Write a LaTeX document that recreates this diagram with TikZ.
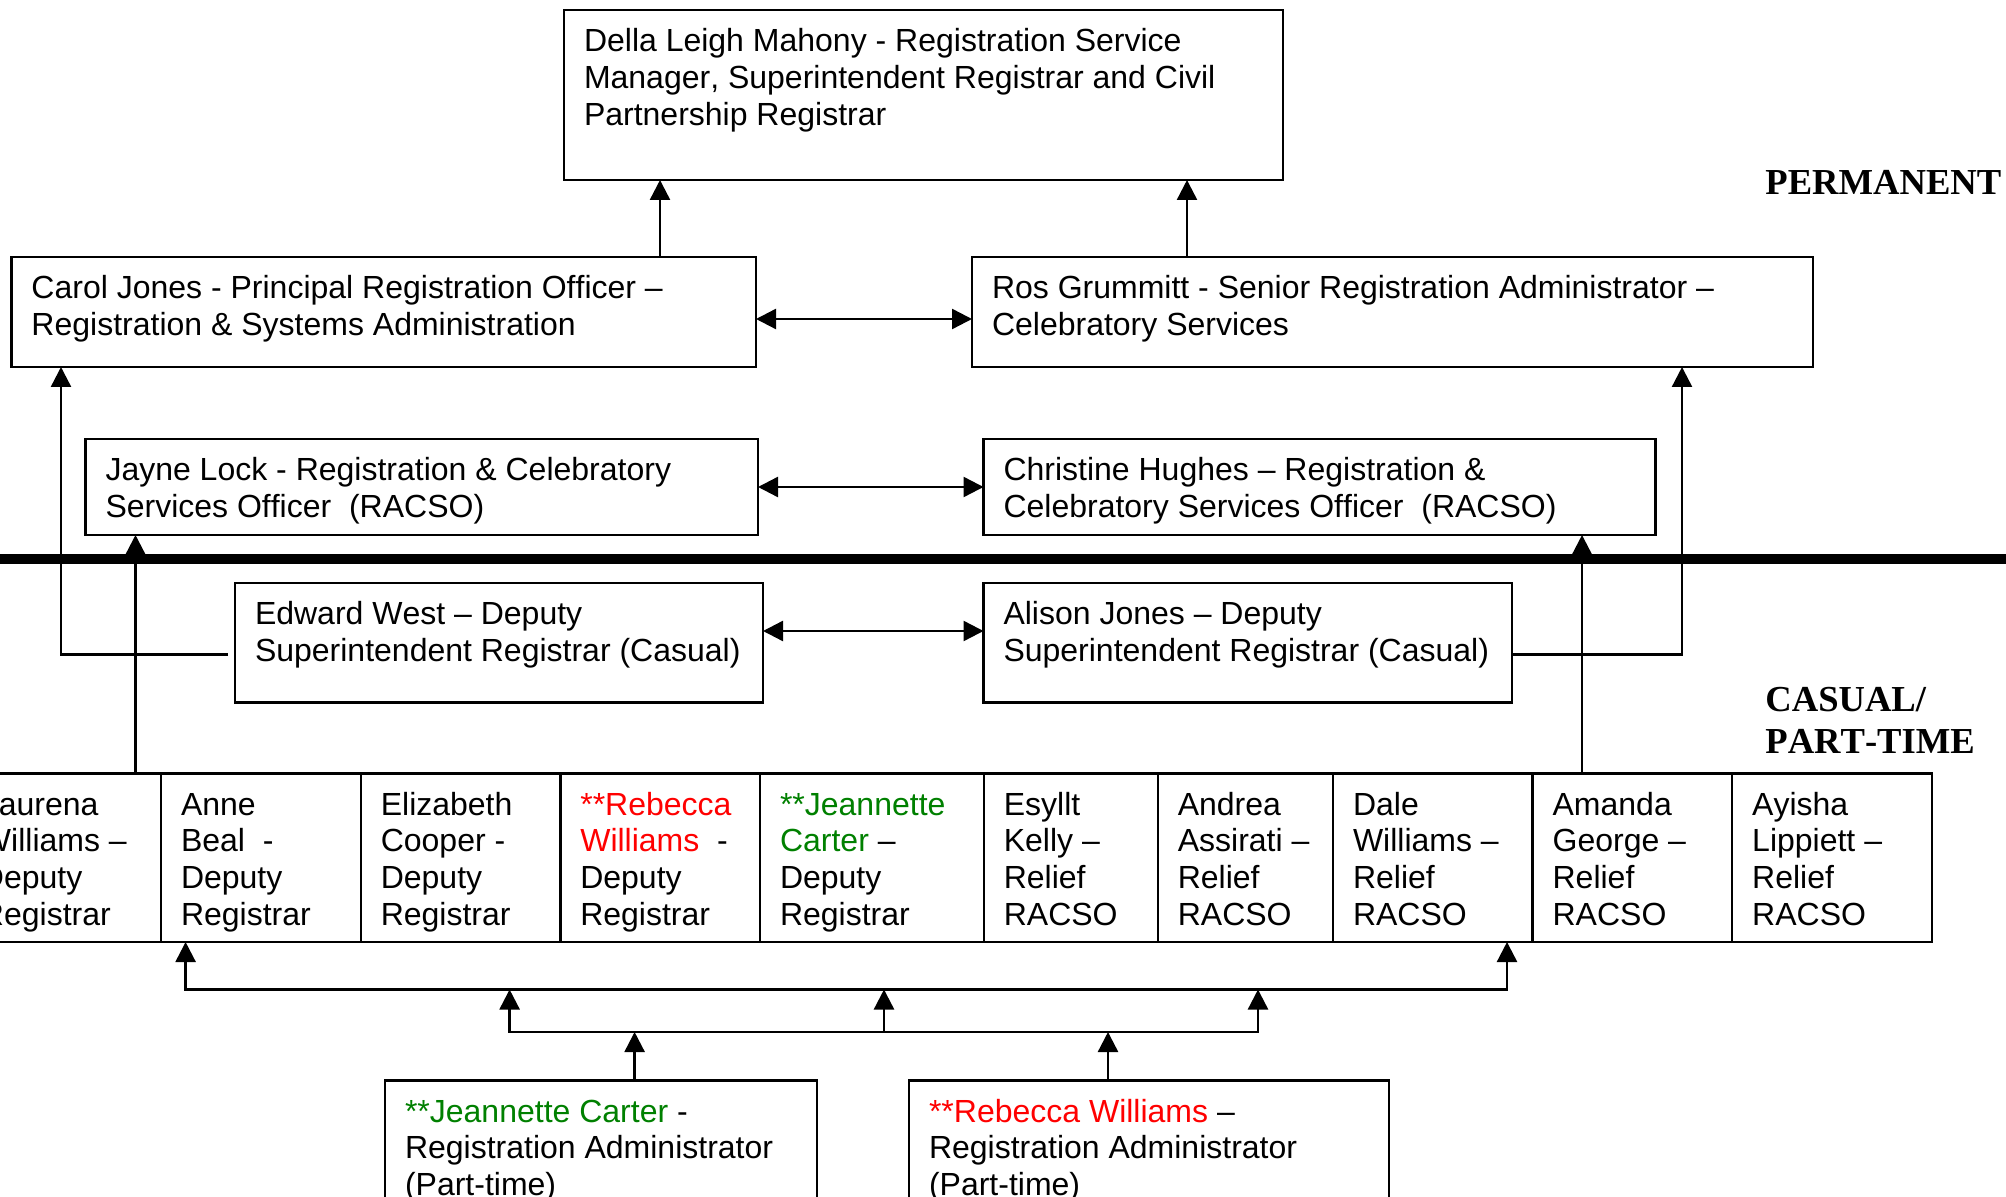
\documentclass[tikz,border=0pt]{standalone}
\usepackage{fontspec}
\setmainfont[Kerning=Off]{Liberation Sans}
\newfontfamily\lserif[Kerning=Off]{Liberation Serif}
\usetikzlibrary{arrows.meta}
\newdimen\pxu \pxu=0.5pt
\definecolor{wred}{RGB}{255,0,0}
\definecolor{wgreen}{RGB}{0,128,0}
\newcommand\bt[1]{\begin{tabular}[t]{@{}l@{}}\rule{0pt}{15.8pt}#1\end{tabular}}
\newcommand\mybox[6]{\node[box] (#1) at (#2,#3) {\parbox[c][\dimexpr #5\pxu-10pt\relax][t]{\dimexpr #4\pxu-20pt\relax}{\bt{#6}}};}
\tikzset{
  box/.style={draw, line width=1.2pt, anchor=north west, inner xsep=10pt, inner ysep=5pt, outer sep=0pt, font={\fontsize{16pt}{18.4pt}\selectfont}},
  tip/.style={},
  arr/.style={line width=1.2pt, -{Triangle[length=10pt,width=10pt]}},
  arrb/.style={line width=1.2pt, {Triangle[length=10pt,width=10pt]}-{Triangle[length=10pt,width=10pt]}},
  lab/.style={inner sep=0pt, anchor=base west, font={\lserif\bfseries\fontsize{18.3pt}{22pt}\selectfont}}
}
\begin{document}
\begin{tikzpicture}[x=0.5pt,y=-0.5pt]
\useasboundingbox (0,0) rectangle (2006,1197);
\clip (0,0) rectangle (2006,1197);
% top levels
\mybox{della}{564}{10}{719}{170}{Della Leigh Mahony - Registration Service\\Manager, Superintendent Registrar and Civil\\Partnership Registrar}
\mybox{carol}{11.5}{257}{744.5}{110}{Carol Jones - Principal Registration Officer –\\Registration \& Systems Administration}
\mybox{ros}{972}{257}{841}{110}{Ros Grummitt - Senior Registration Administrator –\\Celebratory Services}
\mybox{jayne}{85.5}{439}{672.5}{96}{Jayne Lock - Registration \& Celebratory\\Services Officer\ \ (RACSO)}
\mybox{christine}{983.5}{439}{672}{96}{Christine Hughes – Registration \&\\Celebratory Services Officer\ \ (RACSO)}
\mybox{edward}{235}{583}{528}{119.5}{Edward West – Deputy\\Superintendent Registrar (Casual)}
\mybox{alison}{983.5}{583}{528.5}{119.5}{Alison Jones – Deputy\\Superintendent Registrar (Casual)}
% row of cells
\mybox{c1}{-39}{773.5}{200}{168.5}{Laurena\\Williams –\\Deputy\\Registrar}
\mybox{c2}{161}{773.5}{199.8}{168.5}{Anne\\Beal\ \ -\\Deputy\\Registrar}
\mybox{c3}{360.8}{773.5}{199.5}{168.5}{Elizabeth\\Cooper -\\Deputy\\Registrar}
\mybox{c4}{560.3}{773.5}{199.7}{168.5}{{\color{wred}**Rebecca}\\{\color{wred}Williams}\ \ -\\Deputy\\Registrar}
\mybox{c5}{760}{773.5}{223.8}{168.5}{{\color{wgreen}**Jeannette}\\{\color{wgreen}Carter} –\\Deputy\\Registrar}
\mybox{c6}{983.8}{773.5}{174}{168.5}{Esyllt\\Kelly –\\Relief\\RACSO}
\mybox{c7}{1157.8}{773.5}{175.2}{168.5}{Andrea\\Assirati –\\Relief\\RACSO}
\mybox{c8}{1333}{773.5}{199.6}{168.5}{Dale\\Williams –\\Relief\\RACSO}
\mybox{c9}{1532.6}{773.5}{199.6}{168.5}{Amanda\\George –\\Relief\\RACSO}
\mybox{c10}{1732.2}{773.5}{199.5}{168.5}{Ayisha\\Lippiett –\\Relief\\RACSO}
% bottom boxes
\mybox{jc}{385}{1080.5}{432}{220}{{\color{wgreen}**Jeannette Carter} -\\Registration Administrator\\(Part-time)}
\mybox{rw}{909}{1080.5}{480}{220}{{\color{wred}**Rebecca Williams} –\\Registration Administrator\\(Part-time)}
% labels
\node[lab] (perm) at (1765,195) {PERMANENT};
\node[lab] (cas) at (1765,711) {CASUAL/};
\node[lab] (pt) at (1765,753) {PART-TIME};
% thick divider
\draw[line width=5.35pt] (0,559) -- (2006,559);
% connectors
\draw[arr] (carol.north -| 660,0) -- (della.south -| 660,0);
\draw[arr] (ros.north -| 1187,0) -- (della.south -| 1187,0);
\draw[arrb] (carol.east |- 0,319) -- (ros.west |- 0,319);
\draw[arrb] (jayne.east) -- (christine.west);
\draw[arrb] (edward.east |- 0,631) -- (alison.west |- 0,631);
\draw[arr, shorten <=3.5pt] (edward.west |- 0,654.5) -- (61,654.5) -- (carol.south -| 61,0);
\draw[arr] (alison.east |- 0,654.5) -- (1682,654.5) -- (ros.south -| 1682,0);
\draw[arr] (c1.north -| 135.5,0) -- (jayne.south -| 135.5,0);
\draw[arr] (c9.north -| 1582,0) -- (christine.south -| 1582,0);
\coordinate (ub1) at (185.6,989.5);
\coordinate (ub2) at (1507,989.5);
\coordinate (lb1) at (509.6,1032);
\coordinate (lb2) at (884,1032);
\coordinate (lb3) at (1258,1032);
\coordinate (jt) at (634.6,1032);
\coordinate (rt) at (1108,1032);
\draw[arrb] (c2.south -| ub1) -- (ub1) -- (ub2) -- (c8.south -| ub2);
\draw[arrb] (lb1 |- ub1) -- (lb1) -- (lb3) -- (lb3 |- ub1);
\draw[arr] (lb2) -- (lb2 |- ub1);
\draw[arr] (jc.north -| jt) -- (jt);
\draw[arr] (rw.north -| rt) -- (rt);
\end{tikzpicture}
\end{document}
